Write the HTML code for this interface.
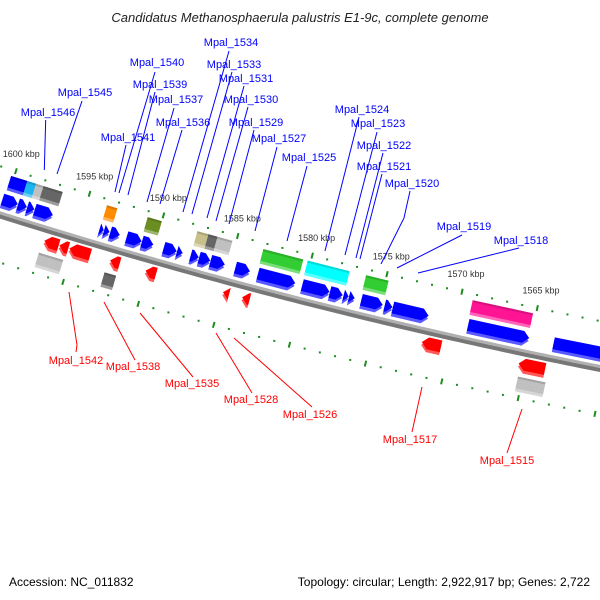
<!DOCTYPE html>
<html><head><meta charset="utf-8">
<style>
html,body{margin:0;padding:0;background:#fff;}
svg{display:block;font-family:"Liberation Sans",sans-serif;}
</style></head>
<body>
<svg id="chart" width="600" height="600" viewBox="0 0 600 600" xmlns="http://www.w3.org/2000/svg">
<rect width="600" height="600" fill="#fff"/>
<text x="300" y="22" text-anchor="middle" font-size="13" font-style="italic" fill="#222">Candidatus Methanosphaerula palustris E1-9c, complete genome</text>
<g id="ticks"></g>
<g id="backbone"></g>
<g id="features"></g>
<g id="leaders"></g>
<g id="labels"></g>
<text x="9" y="586" font-size="12" fill="#000">Accession: NC_011832</text>
<text x="590" y="586" font-size="12" fill="#000" text-anchor="end">Topology: circular; Length: 2,922,917 bp; Genes: 2,722</text>
</svg>
<script>
// ---- data (kbp positions) ----
const upperBoxStart = [1600.2,1599.1,1598.5,1598.0,1593.7,1590.95,1587.6,1586.86,1586.25,1583.17,1580.2,1576.3,1569.2];
const upperBoxEnd   = [1599.1,1598.5,1598.0,1596.7,1593.0,1590.0,1586.86,1586.25,1585.25,1580.5,1577.4,1574.8,1565.2];
const upperBoxColor = ["#0000ff","#1eb4f0","#c0c0c0","#666666","#ff8c00","#6b8e23","#c8c08a","#666666","#c0c0c0","#32cd32","#00ffff","#32cd32","#ff1493"];
const fwdStart = [1600.28,1599.22,1598.6,1598.09,1593.72,1593.42,1593.0,1591.9,1590.87,1589.41,1588.52,1587.6,1587.04,1586.27,1584.61,1583.1,1580.15,1578.31,1577.4,1577.04,1576.22,1574.67,1574.13,1569.14,1563.5];
const fwdEnd   = [1599.24,1598.62,1598.11,1596.87,1593.44,1593.05,1592.36,1590.89,1590.11,1588.54,1588.14,1587.06,1586.29,1585.32,1583.64,1580.62,1578.33,1577.46,1577.06,1576.66,1574.8,1574.15,1571.76,1565.11,1558.0];
const revStart = [1596.91,1595.9,1595.23,1592.5,1590.13,1584.97,1583.7,1571.81,1565.44];
const revEnd   = [1595.95,1595.3,1593.83,1591.86,1589.43,1584.56,1583.2,1570.54,1563.7];
const lowerBoxStart = [1597.02,1596.2,1592.63,1565.3];
const lowerBoxEnd   = [1596.2,1595.4,1591.86,1563.5];
const lowerBoxColor = ["#c0c0c0","#c0c0c0","#666666","#c0c0c0"];
const tickMin = 1558, tickMax = 1602;
const tickLabelKbp = [1600,1595,1590,1585,1580,1575,1570,1565];
const blueLabels = ["Mpal_1546","Mpal_1545","Mpal_1541","Mpal_1540","Mpal_1539","Mpal_1537","Mpal_1536","Mpal_1534","Mpal_1533","Mpal_1531","Mpal_1530","Mpal_1529","Mpal_1527","Mpal_1525","Mpal_1524","Mpal_1523","Mpal_1522","Mpal_1521","Mpal_1520","Mpal_1519","Mpal_1518"];
const redLabels = ["Mpal_1542","Mpal_1538","Mpal_1535","Mpal_1528","Mpal_1526","Mpal_1517","Mpal_1515"];

// ---- layout ----
const NS="http://www.w3.org/2000/svg";
const CX=1692, CY=-5148, A0=-17.49, DEG=0.1583;
function P(k,r){const a=(A0+(1600-k)*DEG)*Math.PI/180;return [CX+r*Math.sin(a),CY+r*Math.cos(a)];}
function mk(tag,attrs,parent){const e=document.createElementNS(NS,tag);for(const k in attrs)e.setAttribute(k,attrs[k]);parent.appendChild(e);return e;}
function pts(a){return a.map(p=>p[0].toFixed(2)+","+p[1].toFixed(2)).join(" ");}
function lighten(c,f){const n=parseInt(c.slice(1),16);let r=n>>16,g=(n>>8)&255,b=n&255;r=Math.round(r+(255-r)*f);g=Math.round(g+(255-g)*f);b=Math.round(b+(255-b)*f);return "rgb("+r+","+g+","+b+")";}
function darken(c,f){const n=parseInt(c.slice(1),16);let r=n>>16,g=(n>>8)&255,b=n&255;return "rgb("+Math.round(r*f)+","+Math.round(g*f)+","+Math.round(b*f)+")";}
const TR={bu:[5583,5598],fw:[5602,5617],rv:[5629,5644],bd:[5648,5663]};

function shape(s,e,r0,r1,type){
  const hi=Math.max(s,e), lo=Math.min(s,e), t=Math.min(hi-lo,0.4), rm=(r0+r1)/2;
  if(type==="box") return [P(hi,r0),P(lo,r0),P(lo,r1),P(hi,r1)];
  if(type==="right") return [P(hi,r0),P(lo+t,r0),P(lo,rm),P(lo+t,r1),P(hi,r1)];
  return [P(lo,r0),P(hi-t,r0),P(hi,rm),P(hi-t,r1),P(lo,r1)];
}
const fg=document.getElementById("features");
function feature(s,e,track,type,color,name){
  const [r0,r1]=TR[track];
  const g=mk("g",{},fg);
  
  
  mk("polygon",{points:pts(shape(s,e,r0+3,r1,type)),fill:lighten(color,0.35)},g);
  mk("polygon",{points:pts(shape(s,e,r0,r1-3,type)),fill:color},g);
  if(type==="box") mk("polygon",{points:pts(shape(s,e,r0,r0+2,"box")),fill:darken(color,0.85)},g);
}
upperBoxStart.forEach((s,i)=>feature(s,upperBoxEnd[i],"bu","box",upperBoxColor[i],"feature-box-upper"));
fwdStart.forEach((s,i)=>feature(s,fwdEnd[i],"fw","right","#0000ff","forward-gene"));
revStart.forEach((s,i)=>feature(s,revEnd[i],"rv","left","#ff0000","reverse-gene"));
lowerBoxStart.forEach((s,i)=>feature(s,lowerBoxEnd[i],"bd","box",lowerBoxColor[i],"feature-box-lower"));

// backbone
const bb=document.getElementById("backbone");
const bTop=[],bMid=[],bBot=[];
for(let k=1603;k>=1555;k-=0.5){bTop.push(P(k,5620));bMid.push(P(k,5623));bBot.push(P(k,5627));}
const b1=mk("polygon",{points:pts(bTop.concat(bMid.slice().reverse())),fill:"#b0b0b0"},bb);


const b2=mk("polygon",{points:pts(bMid.concat(bBot.slice().reverse())),fill:"#777"},bb);



// ticks
const tg=document.getElementById("ticks");
[5577,5669].forEach(r=>{
  for(let k=tickMin;k<=tickMax;k++){
    if(k%5===0){
      const a=P(k,r-3),b=P(k,r+3);
      const l=mk("line",{x1:a[0],y1:a[1],x2:b[0],y2:b[1],stroke:"#1e8c1e","stroke-width":2},tg);
      
      
    } else {
      const c=P(k,r);
      const d=mk("rect",{x:c[0]-1,y:c[1]-1,width:2,height:2,fill:"#1e8c1e"},tg);
      
      
    }
  }
});
tickLabelKbp.forEach(k=>{
  const c=P(k,5559);
  const t=mk("text",{x:c[0],y:c[1]+3,"text-anchor":"middle","font-size":"9",fill:"#333"},tg);
  t.textContent=k+" kbp";
  
  
});

// labels (layout positions)
const blueTextPos=[[48,116],[85,96],[128,141],[157,66],[160,88],[176,103],[183,126],[231,46],[234,68],[246,82],[251,103],[256,126],[279,142],[309,161],[362,113],[378,127],[384,149],[384,170],[412,187],[464,230],[521,244]];
const blueLines=[[[45.7,120],[44.3,170]],[[82,101],[57,174]],[[126,145],[115,192]],[[155,72],[119,193]],[[155,92],[128,195]],[[174,108],[147,202]],[[182,130],[160,204]],[[229,51],[183,212]],[[232,72],[192,214]],[[244,86],[207,218]],[[248,107],[216,221]],[[254,130],[229,224]],[[277,147],[255,231]],[[307,166],[287,241]],[[359,117],[325,251]],[[377,132],[345,255]],[[383,153],[356,258]],[[382,174],[360,259]],[[410,191],[404,218],[381,264]],[[462,235],[397,268]],[[519,248],[418,273]]];
const redTextPos=[[76,364],[133,370],[192,387],[251,403],[310,418],[410,443],[507,464]];
const redLines=[[[69,292],[77,345],[76,352]],[[104,302],[135,360]],[[140,313],[193,377]],[[216,333],[252,393]],[[234,338],[312,407]],[[422,387],[412,432]],[[522,409],[507,453]]];
const lg=document.getElementById("labels"), ld=document.getElementById("leaders");
function addLabel(txt,pos,line,color){
  const pl=mk("polyline",{points:line.map(p=>p.join(",")).join(" "),fill:"none",stroke:color,"stroke-width":1},ld);
  
  
  const t=mk("text",{x:pos[0],y:pos[1],"text-anchor":"middle","font-size":"11",fill:color},lg);
  t.textContent=txt;
  
  
}
blueLabels.forEach((n,i)=>addLabel(n,blueTextPos[i],blueLines[i],"#0000ff"));
redLabels.forEach((n,i)=>addLabel(n,redTextPos[i],redLines[i],"#ff0000"));
</script>
</body></html>
